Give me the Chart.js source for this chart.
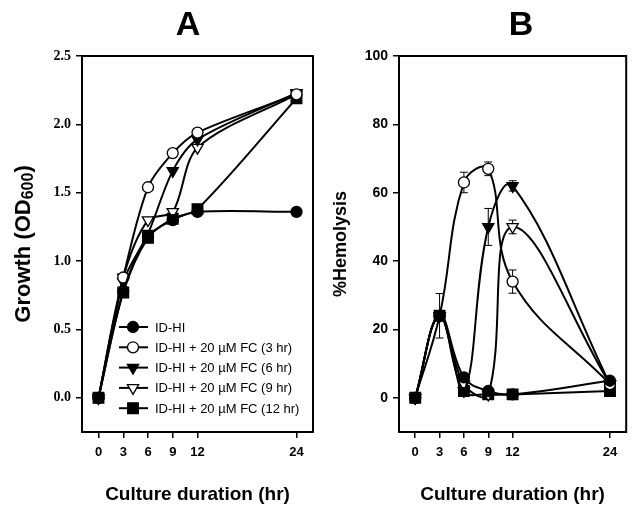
<!DOCTYPE html>
<html>
<head>
<meta charset="utf-8">
<script src="https://cdn.jsdelivr.net/npm/chart.js@4.4.1/dist/chart.umd.min.js"></script>
<style>
  html, body { margin: 0; padding: 0; background: #fff; }
  #wrap { position: relative; width: 635px; height: 510px; overflow: hidden; }
  canvas { position: absolute; top: 0; }
  #chartA { left: 0; }
  #chartB { left: 330px; }
</style>
</head>
<body>
<div id="wrap">
  <canvas id="chartA" width="330" height="510"></canvas>
  <canvas id="chartB" width="305" height="510"></canvas>
</div>
<script>
// culture time points (hr)
const hours = [0, 3, 6, 9, 12, 24];
const hourTicks = [0, 3, 6, 9, 12, 24];

const seriesLabels = [
  'ID-HI',
  'ID-HI + 20 µM FC (3 hr)',
  'ID-HI + 20 µM FC (6 hr)',
  'ID-HI + 20 µM FC (9 hr)',
  'ID-HI + 20 µM FC (12 hr)'
];

// panel A: growth (OD600)
const growthTicks = [0, 0.5, 1.0, 1.5, 2.0, 2.5];
const growthIDHI = [0, 0.78, 1.18, 1.30, 1.36, 1.36];
const growthFC3 = [0, 0.88, 1.54, 1.79, 1.94, 2.22];
const growthFC6 = [0, 0.85, 1.20, 1.66, 1.89, 2.23];
const growthFC9 = [0, 0.88, 1.30, 1.36, 1.83, 2.22];
const growthFC12 = [0, 0.77, 1.17, 1.31, 1.38, 2.19];

// panel B: % hemolysis
const hemoTicks = [0, 20, 40, 60, 80, 100];
const hemoIDHI = [0, 24, 6, 2, 1, 5];
const hemoFC3 = [0, 24, 63, 67, 34, 4];
const hemoFC6 = [0, 24, 2, 50, 62, 4];
const hemoFC9 = [0, 24, 4, 1, 50, 4];
const hemoFC12 = [0, 24, 2, 1, 1, 2];

// error bars (± %) for panel B
const hemoErrIDHI = [0, 0, 0, 0, 0, 0];
const hemoErrFC3 = [0, 6.5, 3, 2, 3.4, 0];
const hemoErrFC6 = [0, 0, 0, 5.4, 1.5, 0];
const hemoErrFC9 = [0, 0, 0, 0, 2, 0];
const hemoErrFC12 = [0, 0, 0, 0, 0, 0];

const SANS = "'Liberation Sans', Arial, sans-serif";
const SERIF = "'Liberation Serif', 'Times New Roman', serif";

const markers = [
  { pointStyle: 'circle', rotation: 0, fill: '#000', radius: 5.5 },
  { pointStyle: 'circle', rotation: 0, fill: '#fff', radius: 5.5 },
  { pointStyle: 'triangle', rotation: 180, fill: '#000', radius: 6.5 },
  { pointStyle: 'triangle', rotation: 180, fill: '#fff', radius: 6.5 },
  { pointStyle: 'rect', rotation: 0, fill: '#000', radius: 7.5 }
];

function buildDatasets(seriesList, errList, tension) {
  return seriesList.map((values, i) => {
    const m = markers[i];
    return {
      label: seriesLabels[i],
      data: values.map((v, j) => ({ x: hours[j], y: v })),
      errors: errList ? errList[i] : null,
      borderColor: '#000',
      borderWidth: 2,
      tension,
      pointStyle: m.pointStyle,
      rotation: m.rotation,
      pointRadius: m.radius,
      pointBackgroundColor: m.fill,
      pointBorderColor: '#000',
      pointBorderWidth: 1.3,
      fill: false
    };
  });
}

const framePlugin = {
  id: 'frame',
  beforeDatasetsDraw(chart) {
    const { ctx, chartArea: a } = chart;
    ctx.save();
    ctx.strokeStyle = '#000';
    ctx.lineWidth = 2;
    ctx.strokeRect(a.left, a.top, a.right - a.left, a.bottom - a.top);
    ctx.restore();
  }
};

const panelLetter = {
  id: 'panelLetter',
  afterDraw(chart, args, opts) {
    if (!opts.text) return;
    const ctx = chart.ctx;
    ctx.save();
    ctx.fillStyle = '#000';
    ctx.font = `bold 34px ${SANS}`;
    ctx.textAlign = 'center';
    ctx.textBaseline = 'alphabetic';
    ctx.fillText(opts.text, opts.x, opts.y);
    ctx.restore();
  }
};

// y title with subscript: Growth (OD600)
const growthTitle = {
  id: 'growthTitle',
  afterDraw(chart, args, opts) {
    if (!opts.display) return;
    const { ctx, chartArea: a } = chart;
    const big = `bold 22px ${SANS}`;
    const small = `bold 16px ${SANS}`;
    const parts = [['Growth (OD', big, 0], ['600', small, 5], [')', big, 0]];
    ctx.save();
    let total = 0;
    parts.forEach(p => { ctx.font = p[1]; total += ctx.measureText(p[0]).width; });
    ctx.translate(opts.x, (a.top + a.bottom) / 2);
    ctx.rotate(-Math.PI / 2);
    ctx.fillStyle = '#000';
    ctx.textBaseline = 'middle';
    ctx.textAlign = 'left';
    let x = -total / 2;
    parts.forEach(p => {
      ctx.font = p[1];
      ctx.fillText(p[0], x, p[2]);
      x += ctx.measureText(p[0]).width;
    });
    ctx.restore();
  }
};

const errorBars = {
  id: 'errorBars',
  beforeDatasetsDraw(chart) {
    const { ctx, scales: { x, y } } = chart;
    ctx.save();
    ctx.strokeStyle = '#000';
    ctx.lineWidth = 1;
    chart.data.datasets.forEach(ds => {
      if (!ds.errors) return;
      ds.data.forEach((pt, j) => {
        const e = ds.errors[j];
        if (!e) return;
        const px = x.getPixelForValue(pt.x);
        const top = y.getPixelForValue(pt.y + e);
        const bot = y.getPixelForValue(pt.y - e);
        ctx.beginPath();
        ctx.moveTo(px, top); ctx.lineTo(px, bot);
        ctx.moveTo(px - 4, top); ctx.lineTo(px + 4, top);
        ctx.moveTo(px - 4, bot); ctx.lineTo(px + 4, bot);
        ctx.stroke();
      });
    });
    ctx.restore();
  }
};

const inlineLegend = {
  id: 'inlineLegend',
  afterDatasetsDraw(chart, args, opts) {
    if (!opts.display) return;
    const { ctx, chartArea: a } = chart;
    ctx.save();
    chart.data.datasets.forEach((ds, i) => {
      const cy = a.bottom - 105 + i * 20.3;
      const cx = a.left + 51;
      ctx.strokeStyle = '#000';
      ctx.lineWidth = 2;
      ctx.beginPath();
      ctx.moveTo(cx - 14, cy); ctx.lineTo(cx + 15, cy);
      ctx.stroke();
      ctx.fillStyle = ds.pointBackgroundColor;
      ctx.lineWidth = ds.pointBorderWidth;
      Chart.helpers.drawPoint(ctx, {
        pointStyle: ds.pointStyle, rotation: ds.rotation, radius: ds.pointRadius, borderWidth: ds.pointBorderWidth
      }, cx, cy);
      ctx.fillStyle = '#000';
      ctx.font = `13px ${SANS}`;
      ctx.textBaseline = 'middle';
      ctx.fillText(ds.label, cx + 22, cy + 1);
    });
    ctx.restore();
  }
};

function tickGrid() {
  return { drawOnChartArea: false, drawTicks: true, tickLength: 6, color: '#000', lineWidth: 1.5 };
}

function xScale(height) {
  return {
    type: 'linear', min: -2, max: 26,
    afterBuildTicks: s => { s.ticks = hourTicks.map(v => ({ value: v })); },
    afterFit: s => { s.height = height; },
    grid: tickGrid(),
    border: { display: false },
    ticks: { autoSkip: false, maxRotation: 0, color: '#000', padding: 7, font: { family: SANS, size: 13, weight: 'bold' } },
    title: { display: true, text: 'Culture duration (hr)', color: '#000', font: { family: SANS, size: 19, weight: 'bold' }, padding: { top: 0, bottom: 4 } }
  };
}

new Chart(document.getElementById('chartA'), {
  type: 'line',
  data: { datasets: buildDatasets([growthIDHI, growthFC3, growthFC6, growthFC9, growthFC12], null, 0.3) },
  options: {
    responsive: false,
    animation: false,
    layout: { padding: { left: 0, right: 17, top: 56, bottom: 0 } },
    plugins: {
      legend: { display: false },
      tooltip: { enabled: false },
      panelLetter: { text: 'A', x: 188, y: 35 },
      growthTitle: { display: true, x: 24 },
      inlineLegend: { display: true }
    },
    scales: {
      x: xScale(78),
      y: {
        type: 'linear', min: -0.25, max: 2.5,
        afterBuildTicks: s => { s.ticks = growthTicks.map(v => ({ value: v })); },
        afterFit: s => { s.width = 82; },
        grid: tickGrid(),
        border: { display: false },
        ticks: { color: '#000', padding: 5, callback: v => v.toFixed(1), font: { family: SERIF, size: 14, weight: 'bold' } }
      }
    }
  },
  plugins: [framePlugin, panelLetter, growthTitle, inlineLegend]
});

new Chart(document.getElementById('chartB'), {
  type: 'line',
  data: {
    datasets: buildDatasets(
      [hemoIDHI, hemoFC3, hemoFC6, hemoFC9, hemoFC12],
      [hemoErrIDHI, hemoErrFC3, hemoErrFC6, hemoErrFC9, hemoErrFC12],
      0.4
    )
  },
  options: {
    responsive: false,
    animation: false,
    layout: { padding: { left: 0, right: 5, top: 56, bottom: 0 } },
    plugins: {
      legend: { display: false },
      tooltip: { enabled: false },
      panelLetter: { text: 'B', x: 191, y: 35 }
    },
    scales: {
      x: xScale(78),
      y: {
        type: 'linear', min: -10, max: 100,
        afterBuildTicks: s => { s.ticks = hemoTicks.map(v => ({ value: v })); },
        afterFit: s => { s.width = 69; },
        grid: tickGrid(),
        border: { display: false },
        ticks: { color: '#000', padding: 5, font: { family: SANS, size: 14, weight: 'bold' } },
        title: { display: true, text: '%Hemolysis', color: '#000', font: { family: SANS, size: 18, weight: 'bold' }, padding: { top: 0, bottom: 0 } }
      }
    }
  },
  plugins: [framePlugin, panelLetter, errorBars]
});
</script>
</body>
</html>
